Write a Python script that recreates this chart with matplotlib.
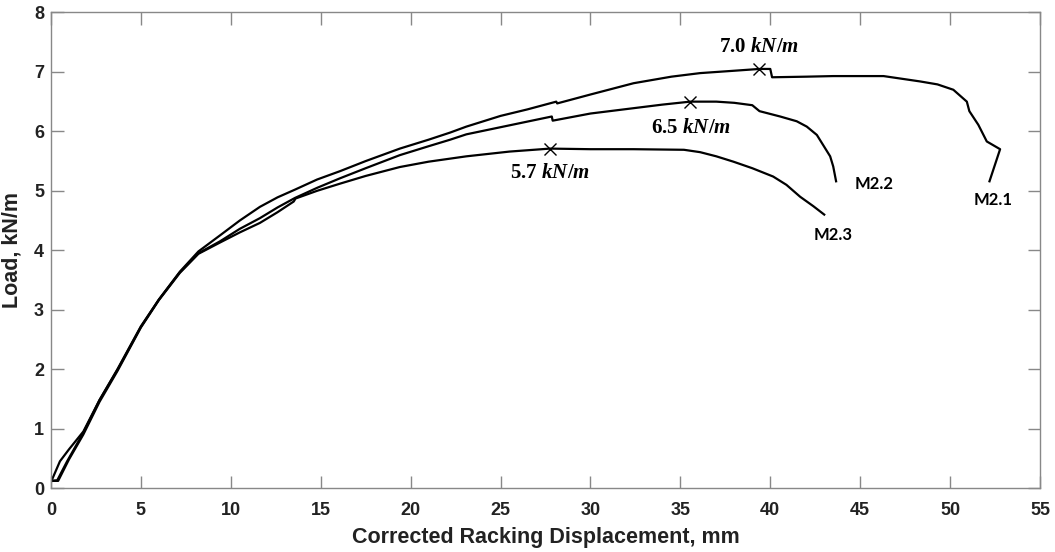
import matplotlib
matplotlib.use('Agg')
import matplotlib.pyplot as plt

plt.rcParams['font.family'] = ['Liberation Sans', 'DejaVu Sans']
plt.rcParams['font.weight'] = 'bold'
plt.rcParams['mathtext.fontset'] = 'custom'
plt.rcParams['mathtext.rm'] = 'Liberation Serif:bold'
plt.rcParams['mathtext.it'] = 'Liberation Serif:italic:bold'

# M2.1 load-displacement curve
m21_x = [0, 0.5, 1.0, 1.8, 2.7, 3.7, 5.0, 6.0, 7.17, 8.2, 9.4, 10.5, 11.62, 12.6, 13.57,
         14.8, 16.07, 17.5, 19.4, 21.0, 22.2, 23.1, 25.0, 26.5, 28.1, 28.15, 30.0,
         32.4, 34.5, 36.1, 38.0, 39.4, 40.0, 40.1, 42.0, 43.5, 46.3, 48.33, 49.3,
         50.18, 50.93, 51.07, 51.57, 52.04, 52.78, 52.19]
m21_y = [0.1, 0.45, 0.65, 0.95, 1.48, 2.0, 2.72, 3.17, 3.64, 3.98, 4.25, 4.50, 4.73, 4.89, 5.02,
         5.19, 5.33, 5.5, 5.71, 5.86, 5.98, 6.08, 6.26, 6.37, 6.5, 6.47, 6.62,
         6.81, 6.92, 6.98, 7.02, 7.05, 7.05, 6.91, 6.92, 6.93, 6.93, 6.84, 6.79,
         6.70, 6.50, 6.34, 6.11, 5.83, 5.70, 5.16]

# M2.2
m22_x = [0, 0.35, 0.9, 1.8, 2.7, 3.7, 5.0, 6.0, 7.17, 8.2, 9.4, 10.5, 11.62, 12.6, 13.57,
         14.8, 16.07, 17.5, 19.4, 21.0, 22.2, 23.1, 25.0, 27.85, 27.9, 30.0, 32.4,
         34.0, 35.55, 37.0, 38.0, 39.0, 39.4, 40.55, 41.47, 42.03, 42.59, 42.94,
         43.33, 43.5, 43.66]
m22_y = [0.12, 0.13, 0.45, 0.93, 1.48, 1.99, 2.71, 3.17, 3.63, 3.95, 4.15, 4.36, 4.54, 4.72, 4.88,
         5.05, 5.21, 5.38, 5.60, 5.75, 5.86, 5.95, 6.07, 6.25, 6.18, 6.30, 6.39,
         6.45, 6.50, 6.50, 6.48, 6.44, 6.34, 6.25, 6.17, 6.08, 5.94, 5.77,
         5.58, 5.41, 5.16]

# M2.3
m23_x = [0, 0.4, 1.0, 1.8, 2.7, 3.7, 5.0, 6.0, 7.17, 8.2, 9.4, 10.5, 11.62, 12.6, 13.5,
         13.6, 14.8, 16.07, 17.5, 19.4, 21.0, 23.1, 25.5, 27.75, 30.0, 32.4, 35.2,
         36.1, 37.0, 37.95, 39.0, 40.16, 40.9, 41.66, 42.4, 43.0]
m23_y = [0.12, 0.12, 0.48, 0.9, 1.45, 1.97, 2.7, 3.16, 3.62, 3.94, 4.13, 4.30, 4.46, 4.64, 4.82,
         4.87, 5.0, 5.12, 5.25, 5.40, 5.49, 5.58, 5.66, 5.71, 5.70, 5.70, 5.69,
         5.65, 5.58, 5.49, 5.38, 5.24, 5.10, 4.90, 4.74, 4.60]

# peak markers and their labels
peak_x = [39.4, 35.55, 27.75]
peak_y = [7.05, 6.50, 5.71]
peak_text = [r'$7.0\ kN/m$', r'$6.5\ kN/m$', r'$5.7\ kN/m$']
peak_text_xy = [(39.4, 7.43), (35.6, 6.06), (27.75, 5.30)]

spec_names = ['M2.1', 'M2.2', 'M2.3']
spec_xy = [(52.4, 4.85), (45.8, 5.12), (43.5, 4.26)]

fig = plt.figure(figsize=(10.55, 5.52), dpi=100)
ax = fig.add_axes([0.0483, 0.1159, 0.9375, 0.8615])

for xs, ys in [(m21_x, m21_y), (m22_x, m22_y), (m23_x, m23_y)]:
    ax.plot(xs, ys, color='black', linewidth=1.6, solid_joinstyle='round')

ax.plot(peak_x, peak_y, linestyle='none', marker='x', color='black',
        markersize=9, markeredgewidth=1.0)

for txt, (tx, ty) in zip(peak_text, peak_text_xy):
    ax.text(tx, ty, txt, ha='center', va='center', fontsize=15)

for name, (tx, ty) in zip(spec_names, spec_xy):
    ax.text(tx, ty, name, ha='center', va='center', fontsize=12,
            family=['Lato', 'DejaVu Sans'], fontweight='bold')

ax.set_xlim(0, 55)
ax.set_ylim(0, 8)
ax.set_xticks(range(0, 56, 5))
ax.set_yticks(range(0, 9))
ax.tick_params(direction='in', length=9, width=1, color='#888888',
               top=True, right=True, labelsize=13)
ax.tick_params(axis='x', pad=10)
ax.tick_params(axis='y', pad=5)
for lab in ax.get_xticklabels() + ax.get_yticklabels():
    lab.set_fontweight('bold')
    lab.set_color('#222222')
for sp in ax.spines.values():
    sp.set_color('#888888')
    sp.set_linewidth(1)

ax.set_xlabel('Corrected Racking Displacement, mm', fontsize=15.5,
              fontweight='bold', color='#222222', labelpad=6)
ax.set_ylabel('Load, kN/m', fontsize=15.5, fontweight='bold', color='#222222',
              labelpad=8)

fig.savefig('out.png', dpi=100)
